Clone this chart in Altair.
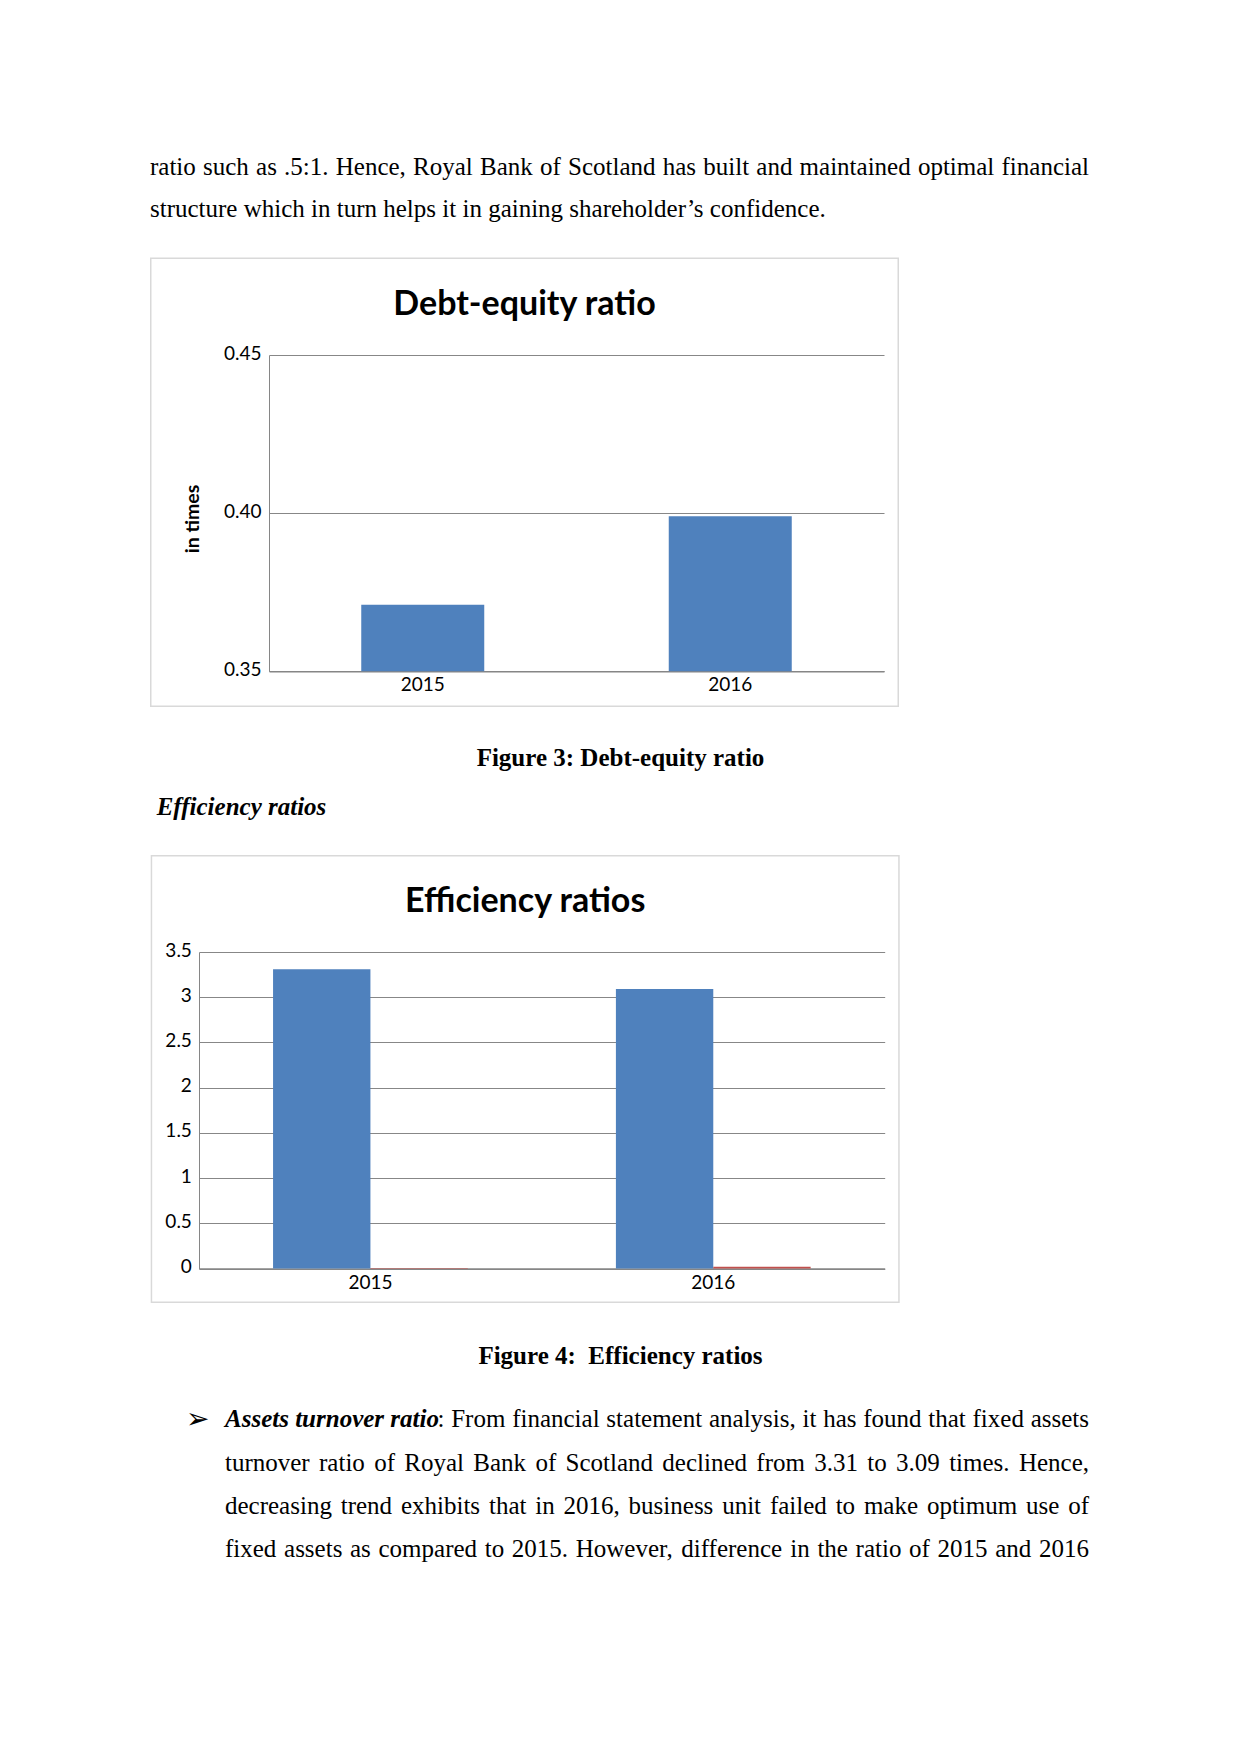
import altair as alt
import pandas as pd

# ---------------- data ----------------
de_years = ["2015", "2016"]
de_values = [0.371, 0.399]
de_ticks = [0.35, 0.40, 0.45]

eff_years = ["2015", "2016"]
eff_series = ["Fixed assets turnover ratio", "Other ratio"]
eff_fixed = [3.31, 3.09]
eff_other = [0.006, 0.018]
eff_ticks = [0, 0.5, 1, 1.5, 2, 2.5, 3, 3.5]

top_lines = [
    "ratio such as .5:1. Hence, Royal Bank of Scotland has built and maintained optimal financial",
    "structure which in turn helps it in gaining shareholder\u2019s confidence.",
]
fig3_caption = "Figure 3: Debt-equity ratio"
section_heading = "Efficiency ratios"
fig4_caption = "Figure 4:\u00a0 Efficiency ratios"
bullet_lead = "Assets turnover ratio"
bullet_lines = [
    ": From financial statement analysis, it has found that fixed assets",
    "turnover ratio of Royal Bank of Scotland declined from 3.31 to 3.09 times. Hence,",
    "decreasing trend exhibits that in 2016, business unit failed to make optimum use of",
    "fixed assets as compared to 2015. However, difference in the ratio of 2015 and 2016",
]

PAGE_W = 1241
SERIF = "Liberation Serif"
SANS = "Lato"
BODY = 25
LBL = 19
one = pd.DataFrame({"k": [0]})

# Times/Liberation Serif regular advance widths (per 1000 em), used to justify lines
_W = {" ": 250, ".": 250, ",": 250, ":": 278, ";": 278, "\u2019": 333, "'": 333, "-": 333,
      "(": 333, ")": 333}
_W.update({d: 500 for d in "0123456789"})
_W.update(dict(zip("abcdefghijklmnopqrstuvwxyz",
                   [444, 500, 444, 500, 444, 333, 500, 500, 278, 278, 500, 278, 778,
                    500, 500, 500, 500, 333, 389, 278, 500, 500, 722, 500, 500, 444])))
_W.update(dict(zip("ABCDEFGHIJKLMNOPQRSTUVWXYZ",
                   [722, 667, 667, 722, 611, 556, 722, 722, 333, 389, 722, 611, 889,
                    722, 722, 556, 722, 667, 556, 611, 722, 722, 944, 722, 722, 611])))


def word_width(w, size):
    return sum(_W.get(c, 500) for c in w) * size / 1000.0


def txt(text, x, y, size=BODY, font=SERIF, weight="normal", style="normal", align="left"):
    return alt.Chart(one).mark_text(
        text=text, font=font, fontSize=size, fontWeight=weight, fontStyle=style,
        align=align, baseline="alphabetic", color="black"
    ).encode(x=alt.value(x), y=alt.value(y))


def justified(line, x0, x1, y, size=BODY):
    words = line.split(" ")
    widths = [word_width(w, size) for w in words]
    gap = (x1 - x0 - sum(widths)) / (len(words) - 1)
    xs, x = [], x0
    for w in widths:
        xs.append(x)
        x += w + gap
    df = pd.DataFrame({"word": words, "px": xs})
    return alt.Chart(df).mark_text(
        font=SERIF, fontSize=size, align="left", baseline="alphabetic", color="black"
    ).encode(x=alt.X("px:Q", scale=None, axis=None), y=alt.value(y), text="word:N")


def spacer(width):
    return alt.Chart(one).mark_rect(opacity=0).encode(
        x=alt.value(0), x2=alt.value(width), y=alt.value(0), y2=alt.value(1)
    ).properties(width=width, height=1)


def frame(x0, x1, y0, y1):
    # outer edges given; stroke drawn inside them
    return alt.Chart(one).mark_rect(fillOpacity=0, stroke="#D9D9D9", strokeWidth=1.5).encode(
        x=alt.value(x0 + 0.75), x2=alt.value(x1 - 0.75), y=alt.value(y0 + 0.75), y2=alt.value(y1 - 0.75)
    )


FRAME_L, FRAME_R = 150, 899
F1_TOP, F1_BOT = 257, 706.5
F2_TOP, F2_BOT = 854.5, 1302.5
RIGHT = 1089

# ---------------- row 0: top paragraph ----------------
row0 = alt.layer(
    justified(top_lines[0], 150, RIGHT, 174.5),
    txt(top_lines[1], 150, 217),
).properties(width=PAGE_W, height=F1_TOP)


def x_axis():
    return alt.Axis(title=None, labelAngle=0, ticks=False, domainColor="#868686",
                    domainWidth=1.5, labelFont=SANS, labelFontSize=LBL,
                    labelColor="black", labelPadding=4.5)


# ---------------- figure 3 ----------------
OX1, OY1 = 269, 354.5
W1, H1 = 884 - OX1, 670.7 - OY1
de_df = pd.DataFrame({"year": de_years, "ratio": de_values})
bars1 = alt.Chart(de_df).mark_bar(color="#4F81BD").encode(
    x=alt.X("year:N", sort=de_years,
            scale=alt.Scale(paddingInner=0.6, paddingOuter=0.3), axis=x_axis()),
    y=alt.Y("ratio:Q", scale=alt.Scale(domain=[de_ticks[0], de_ticks[-1]], zero=False, nice=False),
            axis=alt.Axis(values=de_ticks, format=".2f", title="in times",
                          titleX=192.5 - OX1, titleY=518 - OY1, titleAngle=270,
                          titleAlign="center", titleBaseline="middle", titleFont=SANS,
                          titleFontSize=19.5, titleFontWeight="bold", titleColor="black",
                          grid=True, gridColor="#878787", gridWidth=1, ticks=False,
                          domainColor="#868686", labelPadding=8, labelOffset=-2,
                          labelFont=SANS, labelFontSize=LBL, labelColor="black")),
    y2=alt.datum(de_ticks[0]),
)
fig1 = alt.layer(
    frame(FRAME_L - OX1, FRAME_R - OX1, F1_TOP - OY1, F1_BOT - OY1),
    bars1,
    txt("Debt-equity ratio", 524.5 - OX1, 314 - OY1, size=34, font=SANS, weight="bold", align="center"),
).properties(width=W1, height=H1)
row1 = alt.hconcat(spacer(FRAME_L), fig1, spacing=0)

# ---------------- row 2: caption + heading ----------------
row2 = alt.layer(
    txt(fig3_caption, 620.5, 765.4 - F1_BOT, weight="bold", align="center"),
    txt(section_heading, 156.7, 814.6 - F1_BOT, weight="bold", style="italic"),
).properties(width=PAGE_W, height=F2_TOP - F1_BOT)

# ---------------- figure 4 ----------------
OX2, OY2 = 198.3, 951.5
W2, H2 = 884 - OX2, 1268 - OY2
eff_df = pd.DataFrame({
    "year": eff_years * 2,
    "series": [s for s in eff_series for _ in eff_years],
    "value": eff_fixed + eff_other,
})
bars2 = alt.Chart(eff_df).mark_bar().encode(
    x=alt.X("year:N", sort=eff_years,
            scale=alt.Scale(paddingInner=0.432, paddingOuter=0.216), axis=x_axis()),
    xOffset=alt.XOffset("series:N", sort=eff_series, scale=alt.Scale(paddingInner=0, paddingOuter=0)),
    y=alt.Y("value:Q", scale=alt.Scale(domain=[eff_ticks[0], eff_ticks[-1]], nice=False),
            axis=alt.Axis(values=eff_ticks, format="~g", title=None,
                          grid=True, gridColor="#878787", gridWidth=1, ticks=False,
                          domainColor="#868686", labelPadding=7.6, labelOffset=-2,
                          labelFont=SANS, labelFontSize=LBL, labelColor="black")),
    color=alt.Color("series:N", sort=eff_series,
                    scale=alt.Scale(domain=eff_series, range=["#4F81BD", "#C0504D"]),
                    legend=None),
)
fig2 = alt.layer(
    frame(FRAME_L - OX2, FRAME_R - OX2, F2_TOP - OY2, F2_BOT - OY2),
    bars2,
    txt("Efficiency ratios", 524.5 - OX2, 911.5 - OY2, size=34, font=SANS, weight="bold", align="center"),
).properties(width=W2, height=H2)
row3 = alt.hconcat(spacer(FRAME_L), fig2, spacing=0)

# ---------------- row 4: caption + bullet paragraph ----------------
R4 = F2_BOT
row4 = alt.layer(
    txt(fig4_caption, 620.5, 1363.5 - R4, weight="bold", align="center"),
    txt("\u27a2", 186, 1427 - R4, size=28, font="DejaVu Sans"),
    txt(bullet_lead, 225, 1426.5 - R4, weight="bold", style="italic"),
    justified(bullet_lines[0], 437.5, RIGHT, 1426.5 - R4),
    justified(bullet_lines[1], 225, RIGHT, 1470 - R4),
    justified(bullet_lines[2], 225, RIGHT, 1513.5 - R4),
    justified(bullet_lines[3], 225, RIGHT, 1556 - R4),
).properties(width=PAGE_W, height=1754 - R4 - 3)

chart = alt.vconcat(row0, row1, row2, row3, row4, spacing=0).properties(
    padding=0, background="white"
).configure_view(strokeWidth=0).configure_concat(spacing=0)

chart.save("out.html", embed_options={"renderer": "svg", "actions": False})
